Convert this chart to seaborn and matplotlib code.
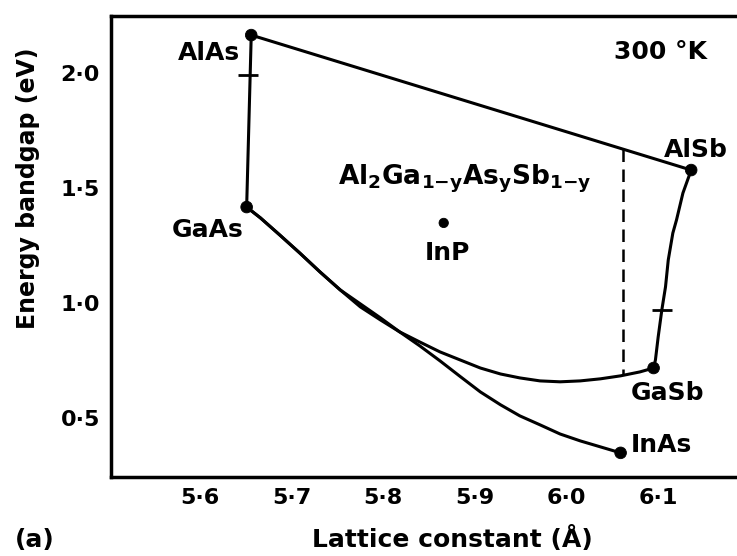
import matplotlib
matplotlib.use("Agg")
import matplotlib.pyplot as plt
import seaborn as sns
import pandas as pd

# ---- data (lattice constant in Å, bandgap in eV) ----
compounds = ["AlAs", "GaAs", "AlSb", "GaSb", "InAs", "InP"]
comp_a = [5.656, 5.651, 6.136, 6.095, 6.059, 5.866]
comp_eg = [2.165, 1.417, 1.578, 0.717, 0.348, 1.348]

# AlAs - GaAs (straight)
alas_gaas_a = [5.656, 5.651]
alas_gaas_eg = [2.165, 1.417]
# AlAs - AlSb (straight)
alas_alsb_a = [5.656, 6.136]
alas_alsb_eg = [2.165, 1.578]
# AlSb - GaSb
alsb_gasb_a = [6.136, 6.127, 6.120, 6.116, 6.111, 6.108, 6.104, 6.100, 6.097, 6.095]
alsb_gasb_eg = [1.578, 1.478, 1.361, 1.304, 1.187, 1.070, 0.970, 0.852, 0.752, 0.717]
# GaAs - GaSb
gaas_gasb_a = [5.651, 5.666, 5.687, 5.709, 5.731, 5.753, 5.775, 5.797, 5.818,
               5.840, 5.862, 5.884, 5.906, 5.928, 5.949, 5.971, 5.993, 6.015,
               6.037, 6.059, 6.080, 6.095]
gaas_gasb_eg = [1.417, 1.370, 1.296, 1.217, 1.135, 1.057, 0.983, 0.926, 0.874,
                0.830, 0.787, 0.752, 0.717, 0.691, 0.674, 0.661, 0.657, 0.661,
                0.670, 0.683, 0.700, 0.717]
# GaAs - InAs
gaas_inas_a = [5.651, 5.666, 5.687, 5.709, 5.731, 5.753, 5.775, 5.797, 5.818,
               5.840, 5.862, 5.884, 5.906, 5.928, 5.949, 5.971, 5.993, 6.015,
               6.037, 6.059]
gaas_inas_eg = [1.417, 1.370, 1.296, 1.217, 1.135, 1.057, 0.996, 0.935, 0.874,
                0.813, 0.748, 0.680, 0.613, 0.557, 0.509, 0.470, 0.430, 0.400,
                0.374, 0.348]
# dashed lattice-match line
dash_a = [6.062, 6.062]
dash_eg = [1.670, 0.688]
# cross marks on the edges
cross_a = [5.653, 6.104]
cross_eg = [1.99, 0.97]

xticks = [5.6, 5.7, 5.8, 5.9, 6.0, 6.1]
xticklabels = ["5·6", "5·7", "5·8", "5·9", "6·0", "6·1"]
yticks = [0.5, 1.0, 1.5, 2.0]
yticklabels = ["0·5", "1·0", "1·5", "2·0"]

# ---- style ----
sns.set_theme(style="white")
plt.rcParams["font.family"] = ["DejaVu Sans"]
plt.rcParams["mathtext.fontset"] = "dejavusans"
plt.rcParams["text.color"] = "black"
plt.rcParams["axes.labelcolor"] = "black"
plt.rcParams["xtick.color"] = "black"
plt.rcParams["ytick.color"] = "black"

fig = plt.figure(figsize=(7.37, 5.56), dpi=100)
ax = fig.add_axes([111 / 737, 1 - 477 / 556, 1 - 111 / 737, (477 - 16) / 556])

lw = 2.2
def curve(a, e):
    sns.lineplot(x=a, y=e, sort=False, estimator=None, color="black",
                 linewidth=lw, ax=ax)
    ax.lines[-1].set_solid_joinstyle("round")

curve(alas_gaas_a, alas_gaas_eg)
curve(alas_alsb_a, alas_alsb_eg)
curve(alsb_gasb_a, alsb_gasb_eg)
curve(gaas_gasb_a, gaas_gasb_eg)
curve(gaas_inas_a, gaas_inas_eg)
sns.lineplot(x=dash_a, y=dash_eg, sort=False, estimator=None, color="black",
             linewidth=1.8, ax=ax)
ax.lines[-1].set_dashes([5, 3])

pts = pd.DataFrame({"a": comp_a, "eg": comp_eg, "name": compounds})
sizes = [70 if n != "InP" else 45 for n in compounds]
sns.scatterplot(data=pts, x="a", y="eg", s=sizes, color="black",
                edgecolor="black", ax=ax, zorder=5)
sns.scatterplot(x=cross_a, y=cross_eg, marker="_", s=220, color="black",
                linewidth=2, ax=ax, zorder=5)

ax.set_xlim(5.503, 6.186)
ax.set_ylim(0.243, 2.248)

fs = 18
wt = "bold"
ax.text(5.644, 2.057, "AlAs", ha="right", va="baseline", fontsize=fs, fontweight=wt)
ax.text(5.608, 1.287, "GaAs", ha="center", va="baseline", fontsize=fs, fontweight=wt)
ax.text(6.052, 2.061, "300 °K", ha="left", va="baseline", fontsize=fs, fontweight=wt)
ax.text(6.106, 1.635, "AlSb", ha="left", va="baseline", fontsize=fs, fontweight=wt)
ax.text(5.751, 1.513, r"$\mathbf{Al_2Ga_{1{-}y}As_ySb_{1{-}y}}$", ha="left",
        va="baseline", fontsize=19)
ax.text(5.870, 1.187, "InP", ha="center", va="baseline", fontsize=fs, fontweight=wt)
ax.text(6.070, 0.578, "GaSb", ha="left", va="baseline", fontsize=fs, fontweight=wt)
ax.text(6.070, 0.352, "InAs", ha="left", va="baseline", fontsize=fs, fontweight=wt)

ax.set_xticks(xticks)
ax.set_xticklabels(xticklabels)
ax.set_yticks(yticks)
ax.set_yticklabels(yticklabels)
ax.tick_params(direction="in", length=13.5, width=2, color="black",
               labelsize=16, pad=8)
for lab in ax.get_xticklabels() + ax.get_yticklabels():
    lab.set_fontweight("bold")

for side in ["left", "top", "bottom"]:
    ax.spines[side].set_visible(True)
    ax.spines[side].set_color("black")
    ax.spines[side].set_linewidth(2.5)
ax.spines["right"].set_visible(False)

ax.set_xlabel("Lattice constant (Å)", fontsize=18, fontweight=wt)
ax.set_ylabel("Energy bandgap (eV)", fontsize=17, fontweight=wt)
ax.xaxis.set_label_coords(0.545, -0.106)
ax.xaxis.label.set_va("top")
ax.yaxis.set_label_coords(-0.113, 0.627)

fig.text(15 / 737, 1 - 528 / 556, "(a)", ha="left", va="top", fontsize=18,
         fontweight=wt)

fig.savefig("out.png", dpi=100)
